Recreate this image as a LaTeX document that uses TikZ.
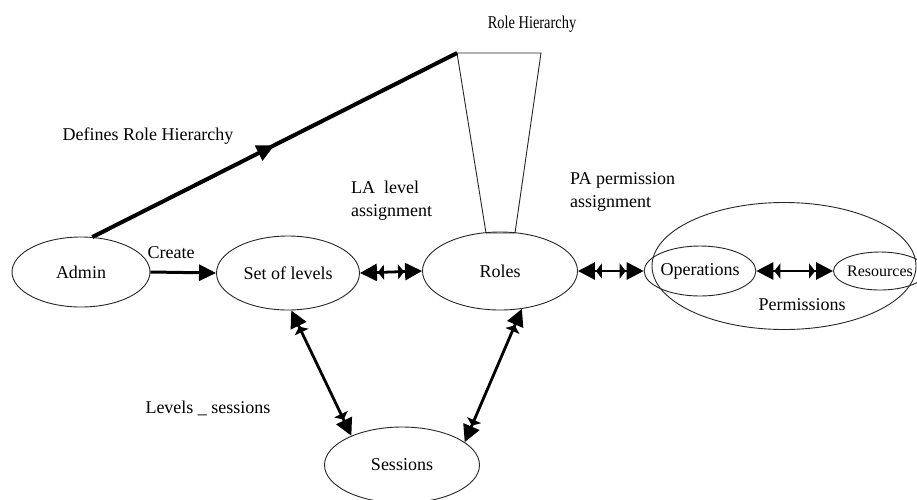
\documentclass[tikz,border=0pt]{standalone}
\usepackage{fontspec}
\usepackage{graphicx}
\setmainfont{Liberation Serif}
\usetikzlibrary{arrows.meta,decorations.markings,shapes.geometric}
\begin{document}
\begin{tikzpicture}[x=1pt,y=-1pt,
  txt/.style={font=\fontsize{18}{22}\selectfont, inner sep=0pt},
  ell/.style={draw=black!85, line width=0.9pt, ellipse, inner sep=0pt, font=\fontsize{18}{22}\selectfont},
  onearrow/.style={line width=3pt, -{Triangle[length=17pt,width=16pt]}},
  dbl/.style={line width=2.8pt,
    {Triangle[length=17pt,width=17pt] Triangle[length=6pt,width=15pt,sep=1pt]}-{Triangle[length=6pt,width=15pt,sep=1pt] Triangle[length=17pt,width=17pt]}},
  hier/.style={line width=0.9pt, draw=black!85}]
\useasboundingbox (0,0) rectangle (917,499);

% nodes
\node[ell, minimum width=138pt, minimum height=70pt] (admin) at (81,272) {Admin};
\node[ell, minimum width=143pt, minimum height=74pt] (set) at (288,273) {Set of levels};
\node[ell, minimum width=155pt, minimum height=78pt] (roles) at (500,271) {Roles};
\node[ell, minimum width=264pt, minimum height=127pt] (perm) at (784,266) {};
\node[ell, minimum width=88pt, minimum height=50pt] (ops) at (700,271) {Operations};
\node[ell, minimum width=66pt, minimum height=38pt, font=\fontsize{16}{19}\selectfont] (res) at (880,271) {Resources};
\node[ell, minimum width=155pt, minimum height=76pt] (sess) at (402,465) {Sessions};

% role hierarchy trapezoid
\coordinate (tl) at (457,53);
\coordinate (tr) at (541,53);
\coordinate (br) at (515,233);
\coordinate (bl) at (486,233);
\draw[hier] (bl) -- (tl) -- (tr) -- (br) -- (bl);

% labels
\node[txt] (rhl) at (532,24) {\scalebox{0.8}[1]{Role Hierarchy}};
\node[txt] (drh) at (148,136) {Defines Role Hierarchy};
\node[txt, align=left, anchor=west, font=\fontsize{18}{23}\selectfont] (la) at (351,201) {LA\ \ level\\assignment};
\node[txt, align=left, anchor=west, font=\fontsize{18}{23}\selectfont] (pa) at (570,192) {PA permission\\assignment};
\node[txt] (cr) at (171,253) {Create};
\node[txt] (ls) at (208,408) {Levels \_ sessions};
\node[txt] (pl) at (802,305) {Permissions};

% connectors
\draw[line width=4pt, postaction={decorate}, decoration={markings,
   mark=at position 0.5 with {\arrow{Triangle[length=18pt,width=16pt]}}}]
   (admin.72) -- (tl);
\draw[onearrow] (admin.east) -- (set.west);
\draw[dbl] (set.east) -- (roles.west);
\draw[dbl] (roles.east) -- (ops.west);
\draw[dbl] (ops.east) -- (res.west);
\draw[dbl] (set.-85) -- (sess.150);
\draw[dbl] (sess.20) -- (roles.-60);
\end{tikzpicture}
\end{document}
